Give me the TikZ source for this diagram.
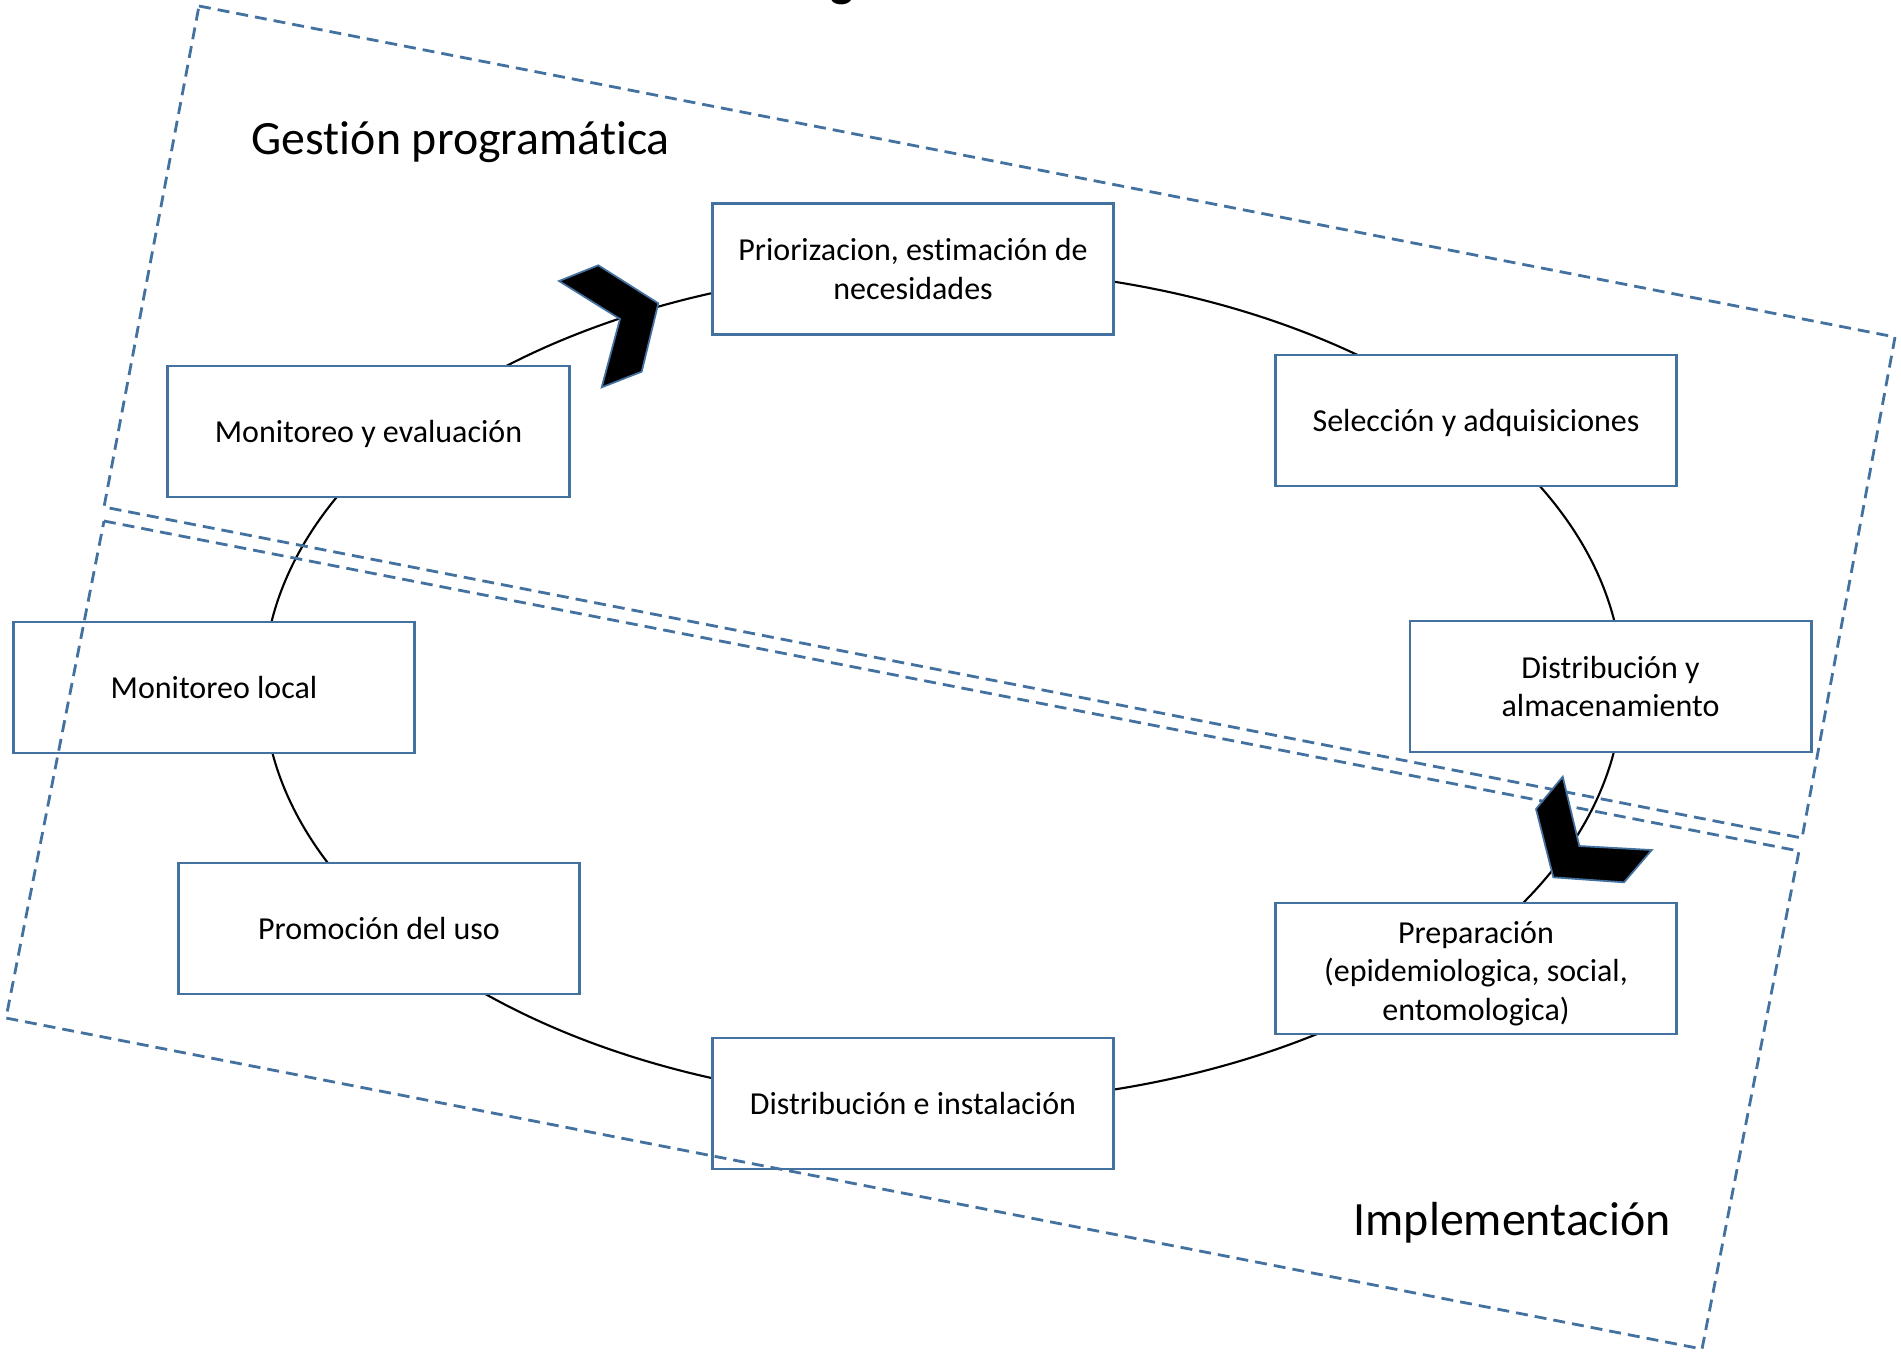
\documentclass[tikz,border=0pt]{standalone}
\usepackage{fontspec}
\setmainfont{Carlito}[Ligatures={NoCommon}]
\definecolor{bblue}{RGB}{68,114,160}
\tikzset{
  stagebox/.style={draw=bblue, line width=0.8pt, fill=white, minimum width=4.01cm, minimum height=1.31cm, align=center, inner sep=2pt, font=\fontsize{9.1}{11}\selectfont},
  boxtext/.style={align=center, inner sep=0pt, font=\fontsize{9.1}{11}\selectfont},
  zone/.style={draw=bblue, line width=0.8pt, dash pattern=on 3.4pt off 2pt},
  chev/.style={fill=black, draw=bblue, line width=0.5pt, line join=miter},
  heading/.style={font=\fontsize{13.6}{16}\selectfont, inner sep=0pt}
}
\begin{document}
\begin{tikzpicture}[x=0.01cm, y=-0.01cm]
\useasboundingbox (0,0) rectangle (1901,1354);
% cycle
\draw[line width=0.6pt] (943,685.6) ellipse [x radius=6.79cm, y radius=4.17cm];
% partial title glyph at top edge
\node[anchor=south, inner sep=0pt, font=\bfseries\fontsize{14}{16}\selectfont] (title) at (842,6) {g};
% stages
\node[stagebox] (b1) at (913,269) {Priorizacion, estimación de\\necesidades};
\node[stagebox, text depth=0pt] (b2) at (1476,420.5) {Selección y adquisiciones};
\node[stagebox] (b3) at (1610.5,686.5) {Distribución y\\almacenamiento};
\node[stagebox] (b4) at (1476,968.5) {};
\node[boxtext] (b4t) at ([yshift=-0.05cm]b4.center) {Preparación\\(epidemiologica, social,\\entomologica)};
\node[stagebox] (b5) at (913,1103.5) {Distribución e instalación};
\node[stagebox] (b6) at (379,928.5) {Promoción del uso};
\node[stagebox] (b7) at (214,687.5) {Monitoreo local};
\node[stagebox, text depth=0pt] (b8) at (368.5,431.5) {Monitoreo y evaluación};
% zones
\draw[zone] (199,6) -- (1895,337) -- (1802,838) -- (104,507) -- cycle;
\draw[zone] (104,521) -- (1799,851) -- (1702,1349) -- (6,1018) -- cycle;
\node[heading, anchor=west] (g1) at (251,142) {Gestión programática};
\node[heading, anchor=west] (g2) at (1353,1223) {Implementación};
% chevrons
\draw[chev] (559,281) -- (598.3,265.3) -- (658.3,303.3) -- (641.7,371.7) -- (601.7,387.3) -- (620,319) -- cycle;
\draw[chev] (1536,809) -- (1562.7,776.7) -- (1579.3,846) -- (1651.7,850) -- (1624,882.3) -- (1553.3,877.3) -- cycle;
\end{tikzpicture}
\end{document}
